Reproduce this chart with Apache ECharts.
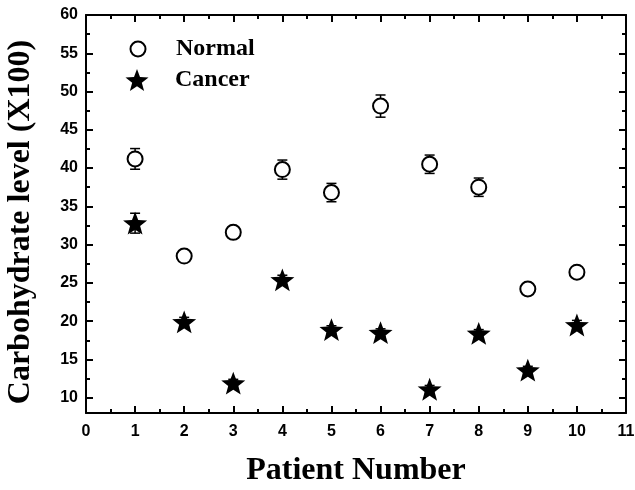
<!DOCTYPE html>
<html>
<head>
<meta charset="utf-8">
<script src="https://cdn.jsdelivr.net/npm/echarts@6/dist/echarts.min.js"></script>
<style>
  html, body { margin: 0; padding: 0; background: #fff; }
  #chart { width: 635px; height: 490px; }
</style>
</head>
<body>
<div id="chart"></div>
<script>
// Carbohydrate level per patient (x100), normal vs. cancer tissue
const patients = [1, 2, 3, 4, 5, 6, 7, 8, 9, 10];
const normalLevel = [41.2, 28.5, 31.6, 39.8, 36.8, 48.1, 40.5, 37.5, 24.2, 26.4];
const normalErr   = [1.35, 0.5, 0.5, 1.25, 1.2, 1.45, 1.2, 1.2, 0.5, 0.5];
const cancerLevel = [32.8, 19.9, 11.9, 25.4, 18.9, 18.5, 11.1, 18.4, 13.6, 19.5];
const cancerErr   = [1.3, 0.6, 0.5, 0.6, 0.5, 0.5, 0.5, 0.5, 0.5, 0.6];
const xTicks = [0, 1, 2, 3, 4, 5, 6, 7, 8, 9, 10, 11];
const yMajorTicks = [10, 15, 20, 25, 30, 35, 40, 45, 50, 55, 60];
const yMinorTicks = [12.5, 17.5, 22.5, 27.5, 32.5, 37.5, 42.5, 47.5, 52.5, 57.5];

const STAR = 'path://M100 0 L124.7 66 L195.1 69.1 L139.9 113 L158.8 180.9 L100 142 L41.2 180.9 L60.1 113 L4.9 69.1 L75.3 66 Z';
const serif = '"Liberation Serif", "Times New Roman", serif';
const sans = '"Liberation Sans", Arial, sans-serif';
const black = '#000';

const pts = (ys, es) => patients.map((p, i) => es ? [p, ys[i], es[i]] : [p, ys[i]]);

function errorBar(params, api) {
  const x = api.value(0), y = api.value(1), e = api.value(2);
  const hi = api.coord([x, y + e]);
  const lo = api.coord([x, y - e]);
  const w = 5;
  const st = { stroke: black, lineWidth: 1.5 };
  return {
    type: 'group',
    children: [
      { type: 'line', shape: { x1: hi[0], y1: hi[1], x2: lo[0], y2: lo[1] }, style: st },
      { type: 'line', shape: { x1: hi[0] - w, y1: hi[1], x2: hi[0] + w, y2: hi[1] }, style: st },
      { type: 'line', shape: { x1: lo[0] - w, y1: lo[1], x2: lo[0] + w, y2: lo[1] }, style: st }
    ]
  };
}

const lineStyle = { color: black, width: 2 };
function xAxisDef(pos, withLabels) {
  return {
    type: 'value', position: pos, min: 0, max: 11, interval: 1,
    axisLine: { show: true, onZero: false, lineStyle },
    axisTick: { show: true, inside: true, length: 7, lineStyle },
    minorTick: { show: true, splitNumber: 2, length: 4, lineStyle: { color: black, width: 2 } },
    splitLine: { show: false },
    axisLabel: withLabels ? {
      show: true, margin: 11, color: black, fontFamily: sans, fontWeight: 'bold', fontSize: 16,
      customValues: xTicks
    } : { show: false },
    name: withLabels ? 'Patient Number' : '',
    nameLocation: 'middle', nameGap: 42,
    nameTextStyle: { fontFamily: serif, fontWeight: 'bold', fontSize: 32, color: black }
  };
}
function yAxisDef(pos, minor, withLabels) {
  return {
    type: 'value', position: pos, min: 8, max: 60, interval: 1,
    axisLine: { show: !minor, onZero: false, lineStyle },
    axisTick: { show: true, inside: true, length: minor ? 4 : 7, lineStyle,
      customValues: minor ? yMinorTicks : yMajorTicks },
    splitLine: { show: false },
    axisLabel: withLabels ? {
      show: true, margin: 8, color: black, fontFamily: sans, fontWeight: 'bold', fontSize: 16,
      customValues: yMajorTicks
    } : { show: false },
    name: withLabels ? 'Carbohydrate level (X100)' : '',
    nameLocation: 'middle', nameGap: 49,
    nameTextStyle: { fontFamily: serif, fontWeight: 'bold', fontSize: 32, color: black,
      padding: [0, 16, 0, 0] }
  };
}

const legendText = (pad) => ({
  fontFamily: serif, fontWeight: 'bold', fontSize: 24, color: black, padding: [0, 0, 0, pad]
});

const chart = echarts.init(document.getElementById('chart'), null, { renderer: 'canvas' });
chart.setOption({
  backgroundColor: '#fff',
  animation: false,
  grid: { left: 86, right: 9, top: 15, bottom: 77, outerBoundsMode: 'none', containLabel: false },
  legend: [
    {
      data: ['Normal'], left: 124.5, top: 32,
      itemWidth: 15, itemHeight: 15,
      textStyle: legendText(25.5)
    },
    {
      data: ['Cancer'], left: 120.5, top: 63,
      itemWidth: 23, itemHeight: 23,
      textStyle: legendText(21.5)
    }
  ],
  xAxis: [xAxisDef('bottom', true), xAxisDef('top', false)],
  yAxis: [
    yAxisDef('left', false, true), yAxisDef('left', true, false),
    yAxisDef('right', false, false), yAxisDef('right', true, false)
  ],
  series: [
    {
      name: 'Normal err', type: 'custom', xAxisIndex: 0, yAxisIndex: 0,
      renderItem: errorBar, data: pts(normalLevel, normalErr), z: 2, silent: true
    },
    {
      name: 'Cancer err', type: 'custom', xAxisIndex: 0, yAxisIndex: 0,
      renderItem: errorBar, data: pts(cancerLevel, cancerErr), z: 2, silent: true
    },
    {
      name: 'Normal', type: 'scatter', xAxisIndex: 0, yAxisIndex: 0,
      symbol: 'circle', symbolSize: 15,
      itemStyle: { color: '#fff', borderColor: black, borderWidth: 2, opacity: 1 },
      data: pts(normalLevel), z: 3
    },
    {
      name: 'Cancer', type: 'scatter', xAxisIndex: 0, yAxisIndex: 0,
      symbol: STAR, symbolKeepAspect: true, symbolSize: 24,
      itemStyle: { color: black, opacity: 1 },
      data: pts(cancerLevel), z: 3
    }
  ]
});
</script>
</body>
</html>
